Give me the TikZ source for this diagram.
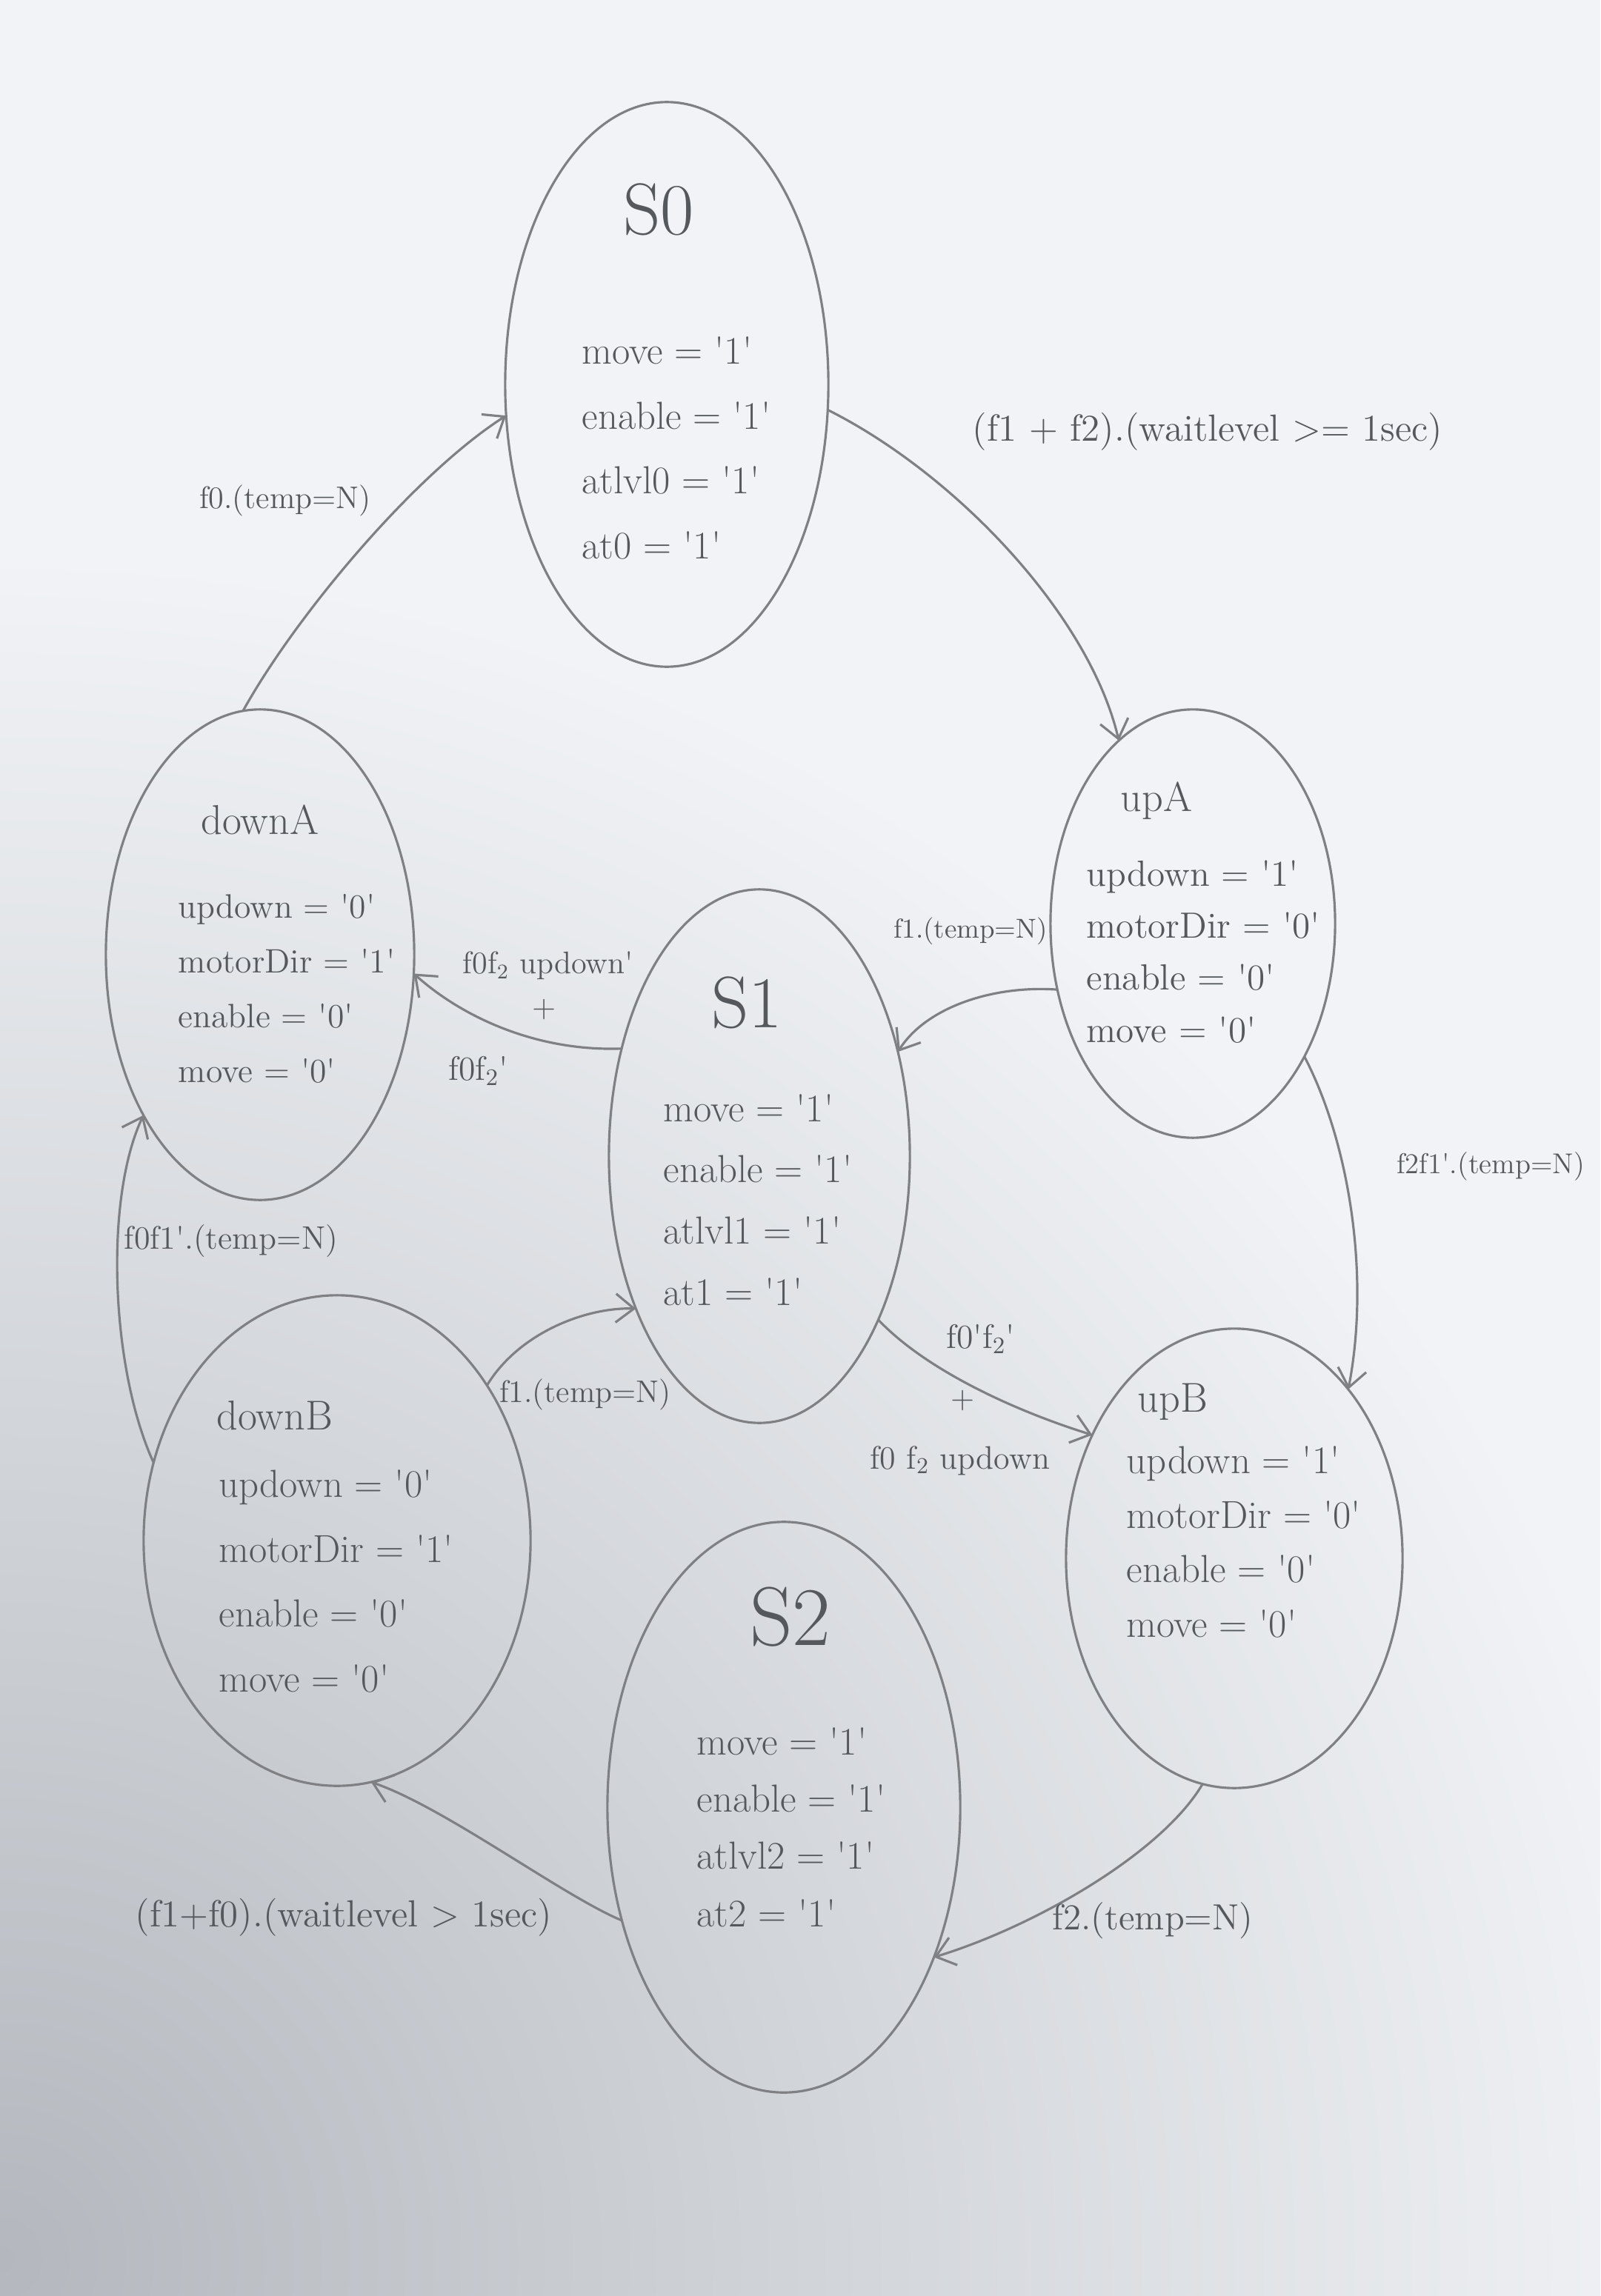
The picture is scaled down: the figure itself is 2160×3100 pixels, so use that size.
\documentclass[tikz,border=0pt]{standalone}
\usetikzlibrary{shapes.geometric,arrows.meta}
\definecolor{paper}{HTML}{F1F3F6}
\definecolor{shadowc}{HTML}{B4B8BE}
\definecolor{penc}{HTML}{7E8084}
\definecolor{inkc}{HTML}{55585C}
\newcommand{\qv}[1]{\textquotesingle#1\textquotesingle}
\newcommand{\pr}{\textquotesingle}
\begin{document}
\begin{tikzpicture}[x=0.01cm,y=-0.01cm,
  pen/.style={draw=penc, line width=0.9pt},
  st/.style={pen, ellipse, inner sep=0pt, outer sep=0pt},
  ttl/.style={text=inkc, inner sep=0pt},
  body/.style={text=inkc, align=left, inner sep=0pt, anchor=west},
  lab/.style={text=inkc, inner sep=0pt},
  tr/.style={pen, -{Straight Barb[length=7pt,width=11pt]}}]
% background paper with shadow
\fill[paper] (0,0) rectangle (2160,3100);
\begin{scope}
\clip (0,0) rectangle (2160,3100);
\shade[inner color=shadowc, outer color=paper] (0,3050) circle[radius=23cm];
\end{scope}
\useasboundingbox (0,0) rectangle (2160,3100);

% states
\node[st, minimum width=4.36cm, minimum height=7.62cm] (S0) at (900,519) {};
\node[st, minimum width=3.84cm, minimum height=5.78cm] (upA) at (1610,1247) {};
\node[st, minimum width=4.16cm, minimum height=6.62cm] (downA) at (351,1289) {};
\node[st, minimum width=4.06cm, minimum height=7.20cm] (S1) at (1025,1561) {};
\node[st, minimum width=4.54cm, minimum height=6.20cm] (upB) at (1666,2104) {};
\node[st, minimum width=5.22cm, minimum height=6.62cm] (downB) at (455,2080) {};
\node[st, minimum width=4.76cm, minimum height=7.70cm] (S2) at (1058,2440) {};

% titles
\node[ttl, font=\fontsize{28}{28}\selectfont] (S0t) at (889,283) {S0};
\node[ttl, font=\fontsize{16}{16}\selectfont, anchor=west] (upAt) at (1512,1081) {upA};
\node[ttl, font=\fontsize{16}{16}\selectfont, anchor=west] (downAt) at (271,1107) {downA};
\node[ttl, font=\fontsize{28}{28}\selectfont] (S1t) at (1008,1354) {S1};
\node[ttl, font=\fontsize{16}{16}\selectfont, anchor=west] (upBt) at (1535,1893) {upB};
\node[ttl, font=\fontsize{16}{16}\selectfont, anchor=west] (downBt) at (292,1911) {downB};
\node[ttl, font=\fontsize{32}{32}\selectfont] (S2t) at (1067,2183) {S2};

% bodies
\node[body, font=\fontsize{15}{25}\selectfont] (S0b) at (785,605)
  {move = \qv1\\enable = \qv1\\atlvl0 = \qv1\\at0 = \qv1};
\node[body, font=\fontsize{14}{20}\selectfont] (upAb) at (1466,1285)
  {updown = \qv1\\motorDir = \qv0\\enable = \qv0\\move = \qv0};
\node[body, font=\fontsize{13}{21}\selectfont] (downAb) at (240,1335)
  {updown = \qv0\\motorDir = \qv1\\enable = \qv0\\move = \qv0};
\node[body, font=\fontsize{15}{23.5}\selectfont] (S1b) at (895,1620)
  {move = \qv1\\enable = \qv1\\atlvl1 = \qv1\\at1 = \qv1};
\node[body, font=\fontsize{15}{21}\selectfont] (upBb) at (1520,2082)
  {updown = \qv1\\motorDir = \qv0\\enable = \qv0\\move = \qv0};
\node[body, font=\fontsize{15}{25}\selectfont] (downBb) at (295,2135)
  {updown = \qv0\\motorDir = \qv1\\enable = \qv0\\move = \qv0};
\node[body, font=\fontsize{15}{22}\selectfont] (S2b) at (940,2467)
  {move = \qv1\\enable = \qv1\\atlvl2 = \qv1\\at2 = \qv1};

% transitions
\draw[tr] (S0.-9) .. controls (1290,640) and (1470,830) .. (upA.112);
\draw[tr] (downA.94) .. controls (400,830) and (560,640) .. (S0.-169);
\draw[tr] (upA.-154) .. controls (1340,1330) and (1250,1360) .. (S1.37);
\draw[tr] (upA.-50) .. controls (1820,1540) and (1850,1720) .. (upB.56);
\draw[tr] (S1.142) .. controls (720,1420) and (620,1370) .. (downA.-7);
\draw[tr] (downB.157) .. controls (150,1850) and (140,1620) .. (downA.-126);
\draw[tr] (downB.46) .. controls (700,1800) and (790,1765) .. (S1.-129);
\draw[tr] (S1.-54) .. controls (1250,1850) and (1370,1905) .. (upB.139);
\draw[tr] (upB.-98) .. controls (1570,2500) and (1400,2600) .. (S2.-45);
\draw[tr] (S2.-145) .. controls (760,2560) and (600,2440) .. (downB.-82);

% labels
\node[lab, font=\fontsize{14.5}{16}\selectfont] (L1) at (1630,583) {(f1 + f2).(waitlevel >= 1sec)};
\node[lab, font=\fontsize{12}{14}\selectfont] (L2) at (385,676) {f0.(temp=N)};
\node[lab, font=\fontsize{10.5}{12}\selectfont] (L3) at (1310,1257) {f1.(temp=N)};
\node[lab, font=\fontsize{11}{12}\selectfont] (L4) at (2012,1575) {f2f1\pr.(temp=N)};
\node[lab, font=\fontsize{12}{14}\selectfont] (L5a) at (740,1304) {f0f\textsubscript{2} updown\pr};
\node[lab, font=\fontsize{12}{14}\selectfont] (L5b) at (735,1363) {+};
\node[lab, font=\fontsize{13}{14}\selectfont] (L5c) at (646,1446) {f0f\textsubscript{2}\pr};
\node[lab, font=\fontsize{12.5}{14}\selectfont] (L6) at (312,1676) {f0f1\pr.(temp=N)};
\node[lab, font=\fontsize{12}{14}\selectfont] (L7) at (790,1883) {f1.(temp=N)};
\node[lab, font=\fontsize{13}{14}\selectfont] (L8a) at (1324,1808) {f0\pr f\textsubscript{2}\pr};
\node[lab, font=\fontsize{12}{14}\selectfont] (L8b) at (1300,1891) {+};
\node[lab, font=\fontsize{12.5}{14}\selectfont] (L8c) at (1296,1972) {f0 f\textsubscript{2} updown};
\node[lab, font=\fontsize{14}{16}\selectfont] (L9) at (1556,2593) {f2.(temp=N)};
\node[lab, font=\fontsize{14.5}{16}\selectfont] (L10) at (464,2589) {(f1+f0).(waitlevel > 1sec)};
\end{tikzpicture}
\end{document}
